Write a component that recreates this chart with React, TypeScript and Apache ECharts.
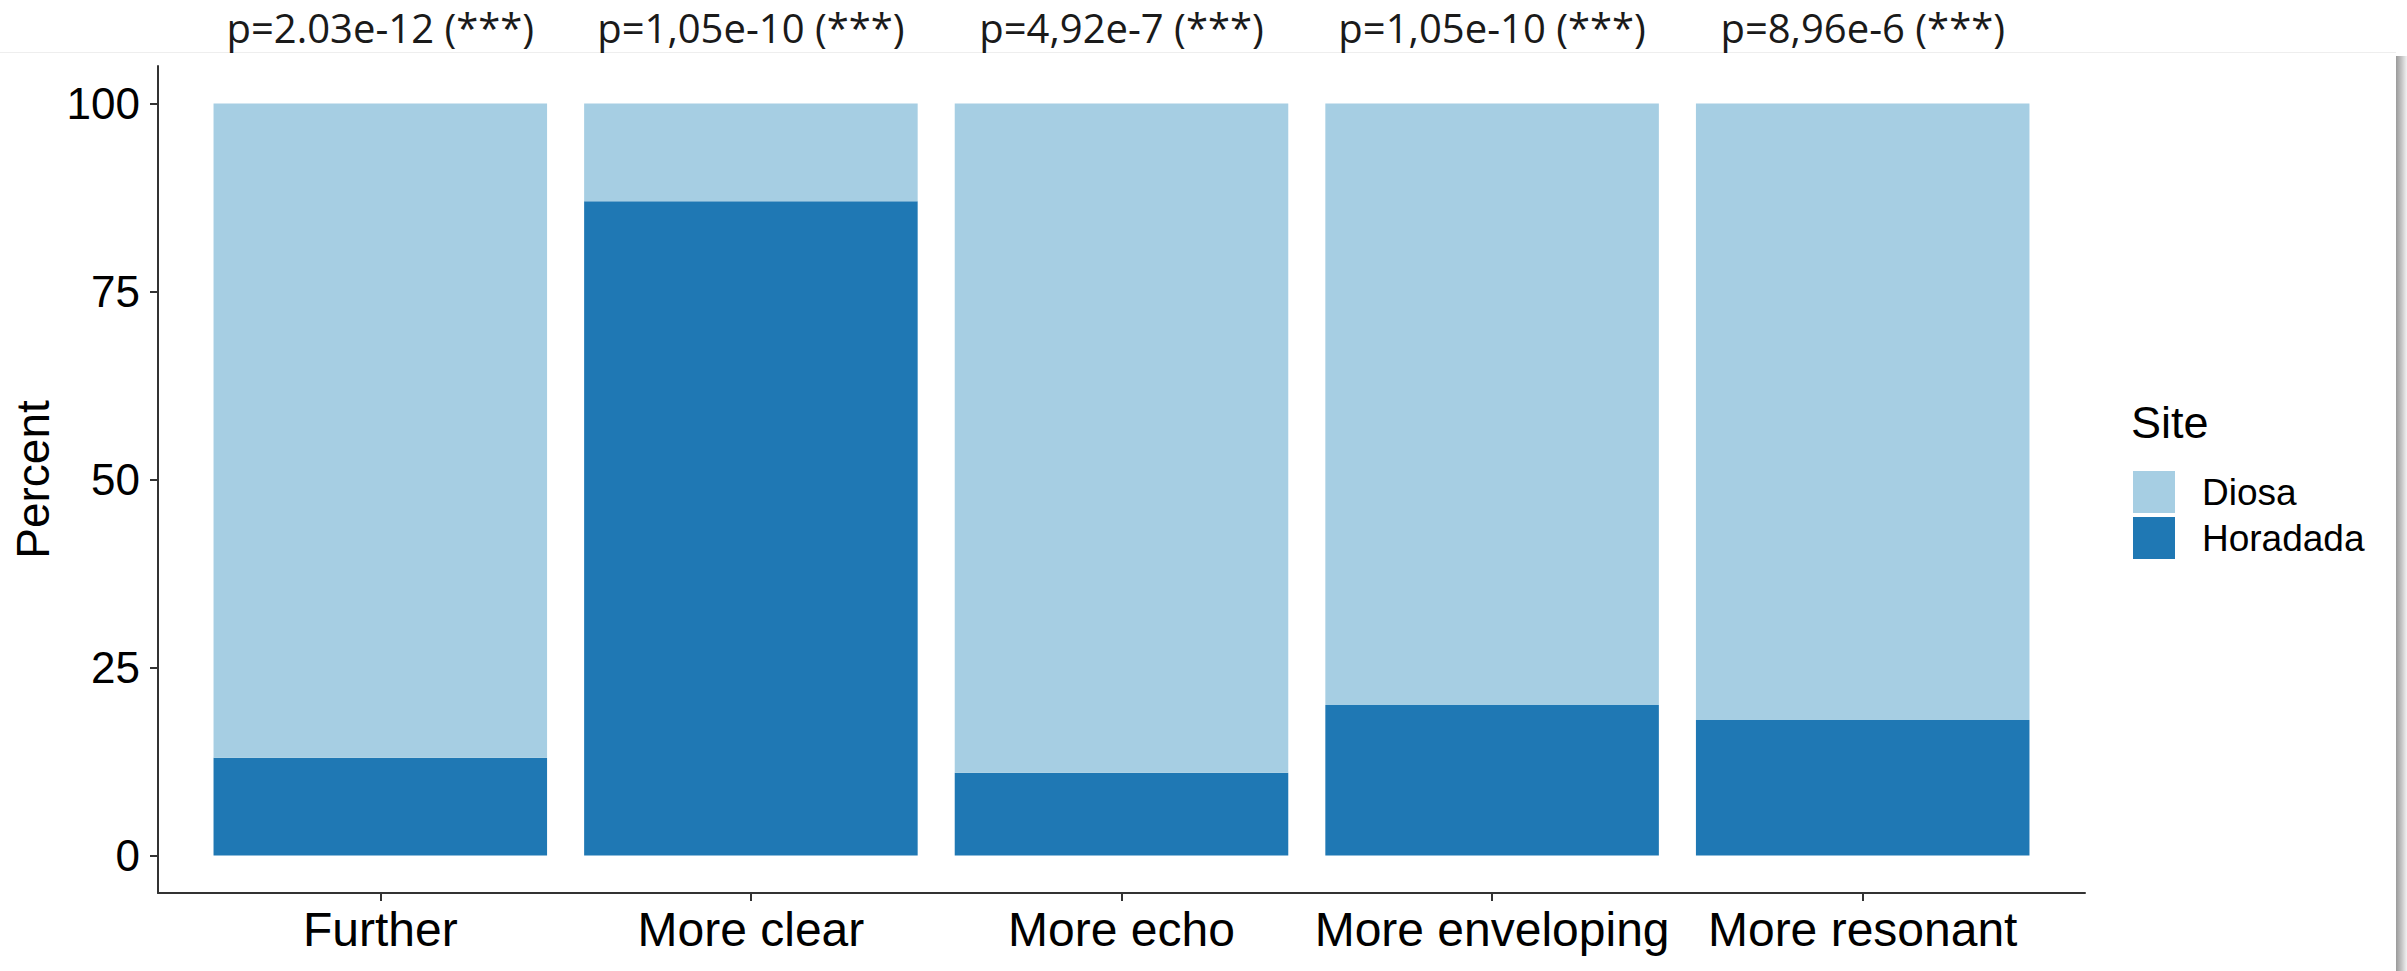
import React, { useEffect, useRef } from "react";
import * as echarts from "echarts";

const categories = ["Further", "More clear", "More echo", "More enveloping", "More resonant"];
const horadada = [13, 87, 11, 20, 18];
const diosa = [87, 13, 89, 80, 82];
const pValues = [
  "p=2.03e-12 (***)",
  "p=1,05e-10 (***)",
  "p=4,92e-7 (***)",
  "p=1,05e-10 (***)",
  "p=8,96e-6 (***)",
];
const yTicks = [0, 25, 50, 75, 100];

const AXIS_FONT = "'Liberation Sans', Arial, sans-serif";
const AXIS_COLOR = "#333333";

export default function App() {
  const ref = useRef<HTMLDivElement>(null);

  useEffect(() => {
    if (!ref.current) return;
    const chart = echarts.init(ref.current, undefined, { renderer: "svg" });
    chart.setOption({
      animation: false,
      backgroundColor: "#ffffff",
      graphic: [
        {
          type: "line",
          z: -10,
          silent: true,
          shape: { x1: 0, y1: 52.5, x2: 2396, y2: 52.5 },
          style: { stroke: "#eeeeee", lineWidth: 1 },
        },
        {
          type: "rect",
          z: -10,
          silent: true,
          shape: { x: 2396, y: 56, width: 11, height: 915 },
          style: {
            fill: new echarts.graphic.LinearGradient(0, 0, 1, 0, [
              { offset: 0, color: "#9a9a9a" },
              { offset: 0.5, color: "#c4c4c4" },
              { offset: 1, color: "#f2f2f2" },
            ]),
          },
        },
      ],
      title: {
        text: "Site",
        left: 2131,
        top: 400,
        padding: 0,
        textStyle: {
          fontFamily: AXIS_FONT,
          fontSize: 45,
          fontWeight: "normal",
          color: "#000000",
        },
      },
      legend: {
        orient: "vertical",
        left: 2133,
        top: 471,
        padding: 0,
        itemWidth: 42,
        itemHeight: 42,
        itemGap: 4,
        icon: "rect",
        data: ["Diosa", "Horadada"],
        textStyle: {
          fontFamily: AXIS_FONT,
          fontSize: 37,
          color: "#000000",
          padding: [0, 0, 0, 22],
        },
      },
      grid: [
        { left: 195, right: 359, top: 66, bottom: 78, containLabel: false },
        { left: 158, right: 322, top: 66, bottom: 78, containLabel: false },
      ],
      xAxis: [
        {
          type: "category",
          gridIndex: 0,
          data: categories,
          axisLine: { show: false, onZero: false },
          axisTick: {
            show: true,
            alignWithLabel: true,
            interval: 0,
            length: 8,
            lineStyle: { color: AXIS_COLOR, width: 2 },
          },
          axisLabel: {
            interval: 0,
            fontFamily: AXIS_FONT,
            fontSize: 48,
            color: "#000000",
            margin: 12,
          },
        },
        {
          type: "value",
          gridIndex: 1,
          min: 0,
          max: 1,
          splitLine: { show: false },
          axisTick: { show: false },
          axisLabel: { show: false },
          axisLine: { show: true, onZero: false, lineStyle: { color: AXIS_COLOR, width: 2 } },
        },
      ],
      yAxis: [
        {
          type: "value",
          gridIndex: 0,
          min: -5,
          max: 105,
          show: false,
          splitLine: { show: false },
        },
        {
          type: "value",
          gridIndex: 1,
          min: -5,
          max: 105,
          name: "Percent",
          nameLocation: "middle",
          nameRotate: 90,
          nameGap: 96,
          nameTextStyle: { fontFamily: AXIS_FONT, fontSize: 46, color: "#000000" },
          splitLine: { show: false },
          axisLine: { show: true, onZero: false, lineStyle: { color: AXIS_COLOR, width: 2 } },
          axisTick: {
            show: true,
            length: 8,
            customValues: yTicks,
            lineStyle: { color: AXIS_COLOR, width: 2 },
          },
          axisLabel: {
            customValues: yTicks,
            fontFamily: AXIS_FONT,
            fontSize: 44,
            color: "#000000",
            margin: 18,
          },
        },
      ],
      series: [
        {
          name: "Horadada",
          type: "bar",
          stack: "total",
          xAxisIndex: 0,
          yAxisIndex: 0,
          barWidth: "90%",
          itemStyle: { color: "#1F78B4" },
          data: horadada,
        },
        {
          name: "Diosa",
          type: "bar",
          stack: "total",
          xAxisIndex: 0,
          yAxisIndex: 0,
          barWidth: "90%",
          itemStyle: { color: "#A6CEE3" },
          label: {
            show: true,
            position: "top",
            distance: 56,
            formatter: (p: any) => pValues[p.dataIndex],
            fontFamily: "'Open Sans', sans-serif",
            fontSize: 40,
            color: "#1a1a1a",
          },
          data: diosa,
        },
      ],
    });
    return () => chart.dispose();
  }, []);

  return (
    <div
      ref={ref}
      style={{ position: "fixed", left: 0, top: 0, width: 2407, height: 971 }}
    />
  );
}
